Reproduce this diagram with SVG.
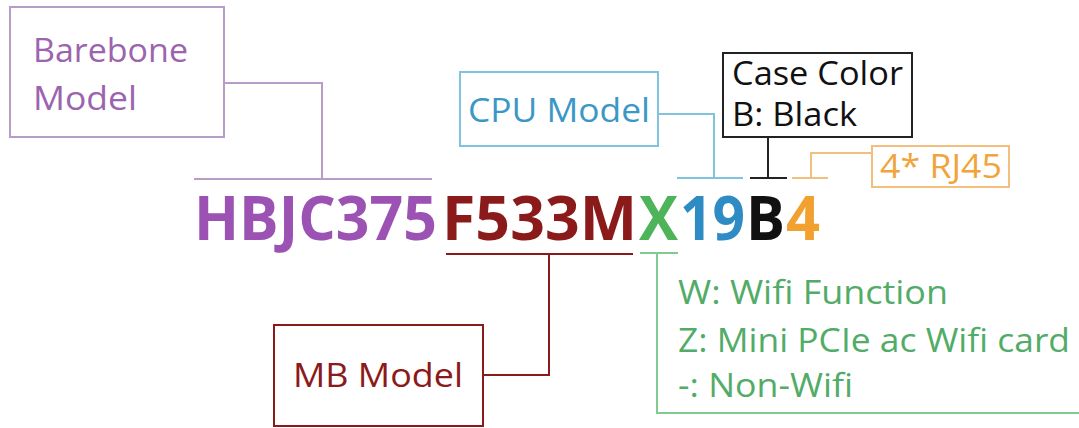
<svg xmlns="http://www.w3.org/2000/svg" width="1079" height="428" viewBox="0 0 1079 428">
<style>
.lbl{font-family:"Open Sans","Liberation Sans",sans-serif;font-size:32px}
.code{font-family:"Open Sans","Liberation Sans",sans-serif;font-size:60px;font-weight:bold}
.box{fill:#fff;stroke-width:2}
.ln{fill:none;stroke-width:2}
</style>
<rect width="1079" height="428" fill="#fff"/>
<g id="connectors">
<path class="ln" stroke="#b89cc6" d="M224,83 H322 V179 M194,179 H432"/>
<path class="ln" stroke="#7fc3df" d="M658,114 H714 V178 M677,178 H743"/>
<path class="ln" stroke="#222" d="M768,137 V178 M750,178 H787"/>
<path class="ln" stroke="#f3bf7e" d="M872,153 H811 V178 M792,178 H828"/>
<path class="ln" stroke="#8b1a1a" stroke-width="3" d="M483,375 H549 V254 M446,254 H633"/>
<path class="ln" stroke="#7fcb90" d="M640,253 H678 M657,253 V413 H1079"/>
</g>
<g id="code">
<text class="code" x="194" y="240" fill="#9b52b3" textLength="243" lengthAdjust="spacingAndGlyphs">HBJC375</text>
<text class="code" x="442" y="240" fill="#8b1a1a" textLength="195" lengthAdjust="spacingAndGlyphs">F533M</text>
<text class="code" x="639" y="240" fill="#4db45a" textLength="39" lengthAdjust="spacingAndGlyphs">X</text>
<text class="code" x="680" y="240" fill="#2e8bc4" textLength="65" lengthAdjust="spacingAndGlyphs">19</text>
<text class="code" x="746" y="240" fill="#111" textLength="39" lengthAdjust="spacingAndGlyphs">B</text>
<text class="code" x="786" y="240" fill="#f2a030" textLength="34" lengthAdjust="spacingAndGlyphs">4</text>
</g>
<g id="barebone">
<rect class="box" x="10" y="7" width="214" height="130" stroke="#b89cc6"/>
<text class="lbl" x="33" y="62" fill="#9c64ae" textLength="155" lengthAdjust="spacingAndGlyphs">Barebone</text>
<text class="lbl" x="33" y="110" fill="#9c64ae" textLength="104" lengthAdjust="spacingAndGlyphs">Model</text>
</g>
<g id="cpu">
<rect class="box" x="460" y="72" width="198" height="74" stroke="#7fc3df"/>
<text class="lbl" x="468" y="122" fill="#3b98c6" textLength="182" lengthAdjust="spacingAndGlyphs">CPU Model</text>
</g>
<g id="case">
<rect class="box" x="723" y="53" width="189" height="84" stroke="#222"/>
<text class="lbl" x="732" y="85" fill="#111" textLength="171" lengthAdjust="spacingAndGlyphs">Case Color</text>
<text class="lbl" x="732" y="126" fill="#111" textLength="125" lengthAdjust="spacingAndGlyphs">B: Black</text>
</g>
<g id="rj45">
<rect class="box" x="872" y="146" width="137" height="41" stroke="#f3bf7e"/>
<text class="lbl" x="880" y="178" fill="#f0a43c" textLength="122" lengthAdjust="spacingAndGlyphs">4* RJ45</text>
</g>
<g id="mb">
<rect class="box" x="274" y="325" width="209" height="101" stroke="#8b1a1a" stroke-width="3"/>
<text class="lbl" x="293" y="387" fill="#8b1a1a" textLength="170" lengthAdjust="spacingAndGlyphs">MB Model</text>
</g>
<g id="wifi">
<text class="lbl" x="678" y="304" fill="#52ac68" textLength="270" lengthAdjust="spacingAndGlyphs">W: Wifi Function</text>
<text class="lbl" x="678" y="352" fill="#52ac68" textLength="392" lengthAdjust="spacingAndGlyphs">Z: Mini PCIe ac Wifi card</text>
<text class="lbl" x="678" y="397" fill="#52ac68" textLength="175" lengthAdjust="spacingAndGlyphs">-: Non-Wifi</text>
</g>
</svg>
